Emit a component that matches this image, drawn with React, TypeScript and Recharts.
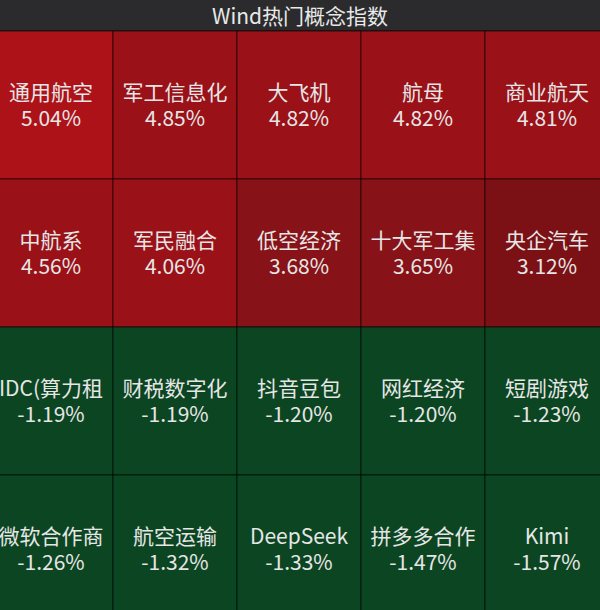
import React from 'react';
import { BarChart, Bar, XAxis, YAxis, Cell, LabelList } from 'recharts';

const title = 'Wind热门概念指数';
const columns = ['c1', 'c2', 'c3', 'c4', 'c5'];

const row1Names = ['通用航空', '军工信息化', '大飞机', '航母', '商业航天'];
const row1Values = [5.04, 4.85, 4.82, 4.82, 4.81];
const row2Names = ['中航系', '军民融合', '低空经济', '十大军工集', '央企汽车'];
const row2Values = [4.56, 4.06, 3.68, 3.65, 3.12];
const row3Names = ['IDC(算力租', '财税数字化', '抖音豆包', '网红经济', '短剧游戏'];
const row3Values = [-1.19, -1.19, -1.2, -1.2, -1.23];
const row4Names = ['微软合作商', '航空运输', 'DeepSeek', '拼多多合作', 'Kimi'];
const row4Values = [-1.26, -1.32, -1.33, -1.47, -1.57];

const rows = [
  { key: 'r0', names: row1Names, values: row1Values },
  { key: 'r1', names: row2Names, values: row2Values },
  { key: 'r2', names: row3Names, values: row3Values },
  { key: 'r3', names: row4Names, values: row4Values },
];

const tableData = columns.map((c) => ({ col: c, r0: 1, r1: 1, r2: 1, r3: 1 }));

const FONT = '"Noto Sans CJK SC", "Noto Sans", sans-serif';

function colorFor(v: number): string {
  if (v >= 5) return '#ae1219';
  if (v >= 4) return '#9a1118';
  if (v >= 3.5) return '#871217';
  if (v > 0) return '#7c1115';
  return '#0b4521';
}

function makeLabel(names: string[], values: number[]) {
  return (props: any) => {
    const { x, y, width, height, index } = props;
    const cx = Number(x) + Number(width) / 2;
    const cy = Number(y) + Number(height) / 2;
    const v = values[index];
    return (
      <g>
        <text x={cx} y={cy - 14} textAnchor="middle" dominantBaseline="central" fill="#e6e6e6" fontSize={21} fontFamily={FONT}>
          {names[index]}
        </text>
        <text x={cx} y={cy + 12} textAnchor="middle" dominantBaseline="central" fill="#e6e6e6" fontSize={21} fontFamily={FONT}>
          {`${v.toFixed(2)}%`}
        </text>
      </g>
    );
  };
}

export default function App() {
  return (
    <div style={{ position: 'absolute', left: 0, top: 0, width: 600, height: 610, overflow: 'hidden', background: '#2b2b2d' }}>
      <div
        style={{
          position: 'absolute', left: 0, top: 0, width: 600, height: 30,
          borderBottom: '1px solid #141414', color: '#e8e8e8', fontFamily: FONT, fontSize: 21,
          lineHeight: '30px', textAlign: 'center',
        }}
      >
        {title}
      </div>
      <div style={{ position: 'absolute', left: -11, top: 31 }}>
        <BarChart width={620} height={592} data={tableData} margin={{ top: 0, right: 0, bottom: 0, left: 0 }} barCategoryGap={0} barGap={0}>
          <XAxis dataKey="col" hide />
          <YAxis type="number" domain={[0, 4]} reversed hide />
          {rows.map((r) => (
            <Bar key={r.key} dataKey={r.key} stackId="a" isAnimationActive={false}>
              {r.values.map((v, i) => (
                <Cell key={i} fill={colorFor(v)} stroke="rgba(0,0,0,0.6)" strokeWidth={1} />
              ))}
              <LabelList dataKey={r.key} content={makeLabel(r.names, r.values)} />
            </Bar>
          ))}
        </BarChart>
      </div>
    </div>
  );
}
